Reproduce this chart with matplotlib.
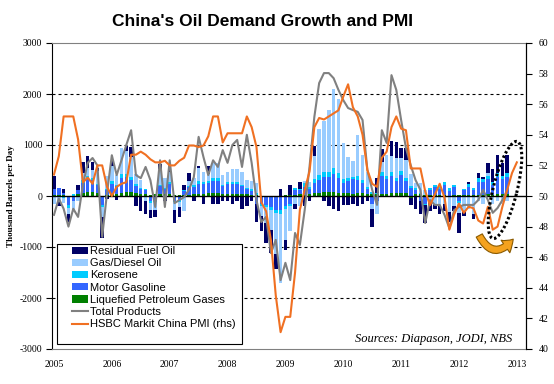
import numpy as np
import matplotlib
matplotlib.use("Agg")
import matplotlib.pyplot as plt
from matplotlib.patches import Patch, Ellipse, FancyArrowPatch, Rectangle
from matplotlib.lines import Line2D
from matplotlib.transforms import IdentityTransform

# ---------------- data (monthly, Jan 2005 onwards) ----------------
year_labels = ["2005", "2006", "2007", "2008", "2009", "2010", "2011", "2012", "2013"]

lpg = [20, 10, 10, -20, 0, 30, 60, 80, 70, 60, -20, 20,
       40, 40, 60, 70, 70, 50, 40, 30, 20, 40, 40, 30,
       30, 20, 10, 20, 20, 30, 40, 40, 50, 50, 50, 40,
       40, 40, 40, 40, 30, 20, 10, -10, -20, -20, -20, -20,
       10, 20, 20, 30, 20, 30, 50, 60, 70, 80, 80, 60,
       60, 50, 40, 60, 50, 40, 30, 30, 40, 40, 50, 50,
       60, 50, -30, 40, 30, 20, 20, 20, 10, 10, -10, 20,
       10, 10, 20, 20, 20, 20, 30, 20, 30, 30, 30]
motor_gasoline = [120, 150, 50, -150, -100, 80, 200, 250, 250, 150, -150, 100,
                  200, 150, 300, 300, 250, 150, 100, 80, -100, -100, 150, 100,
                  200, -100, -80, 80, 150, 150, 200, 200, 200, 250, 250, 150,
                  200, 200, 200, 150, 100, 80, -150, -150, -150, -200, -250, -250,
                  -200, -150, 100, 80, 150, 100, 200, 250, 300, 300, 350, 300,
                  200, 250, 300, 250, 200, 100, -150, -100, 350, 300, 350, 250,
                  350, 250, 150, 80, -100, -150, 100, 150, 120, 200, 100, 150,
                  -100, 100, 150, 100, 250, 250, 300, 200, 350, 300, 350]
kerosene = [0, 0, -30, -60, 40, 0, 50, 60, 40, 30, -50, 20,
            50, 30, 80, 60, 50, 30, 20, 20, -30, -20, 30, 20,
            40, -20, -30, 20, 30, 30, 50, 40, 40, 50, 50, 30,
            40, 40, 40, 30, 30, 40, 40, -30, -50, -50, -60, -80,
            -60, -40, 30, 20, 80, 50, 80, 100, 100, 100, 120, 100,
            80, 60, 40, 80, 60, 30, 50, 20, 80, 60, 80, 50,
            80, 50, 40, 30, 20, -30, 30, 40, 50, 60, 50, 40,
            -30, 30, 60, 30, 80, 60, 70, 50, 80, 70, 80]
gas_diesel = [-150, -120, -100, -120, -200, -100, 150, 150, 150, 250, -200, 250,
              300, 200, 500, 450, 400, 200, 150, -100, -150, -150, 300, 200,
              200, -150, -100, -300, 100, 150, 250, 200, 150, 300, 300, 200,
              200, 250, 250, 250, 150, 150, 200, -200, -300, -400, -800, -1350,
              -600, -500, -150, -200, 50, 100, 450, 900, 1000, 1200, 1550, 1450,
              700, 400, 300, 800, 500, 300, -100, -250, 200, 400, 300, 400,
              250, 350, 250, 100, 200, 100, -100, -150, -200, -150, -300, -200,
              -200, -300, -250, -350, -100, -150, 50, -150, -100, -150, -100]
residual = [250, -80, 80, -150, 0, 100, 200, 250, 150, 50, -400, -50,
            100, -80, 0, 100, 200, -200, -300, -250, -150, -150, 100, -100,
            100, -250, -200, 100, 150, -100, 50, -150, 150, -150, -150, -100,
            -100, -150, -100, -250, -200, -100, -350, -300, -400, -450, -300, 130,
            -200, 200, -100, 150, -200, -100, 200, 0, -100, -200, -250, -300,
            -180, -180, -150, -200, -150, -100, -350, 300, 250, 0, 300, 300,
            200, 250, -150, -250, -250, -350, -200, -100, -150, -150, -200, -100,
            -400, -100, 50, -100, 100, 50, 200, 250, 350, 250, 350]
total_products = [-370, -50, -250, -600, -250, -410, 215, 650, 745, 600, -800, 60,
                  800, 410, 700, 1000, 1290, 410, 350, 570, 310, -215, 700, -215,
                  700, -140, -80, -20, 120, 370, 1160, 765, 410, 700, 570, 900,
                  650, 1000, 1100, 570, 1200, 650, -80, -510, -410, -1120, -860, -1650,
                  -1310, -1650, -725, -960, -275, 570, 1550, 2215, 2410, 2410, 2310, 2080,
                  1880, 1725, 1685, 1650, 1490, 510, 120, -175, 1290, 1040, 2370, 2080,
                  1490, 940, 600, 310, 120, -530, -80, -175, -175, -370, -630, -275,
                  -215, -175, -175, -175, -80, 120, -80, -330, -235, -80, 120]
pmi = [51.4, 52.6, 55.2, 55.2, 55.2, 53.7, 50.9, 51.2, 50.8, 52.0, 52.0, 50.6,
       50.0, 50.6, 50.8, 50.9, 52.7, 52.7, 52.9, 52.7, 52.4, 52.2, 52.2, 52.3,
       52.0, 52.0, 52.3, 52.5, 53.3, 53.3, 53.2, 53.3, 53.9, 55.2, 55.2, 53.5,
       54.1, 54.1, 54.1, 54.1, 55.2, 54.5, 53.2, 49.6, 49.0, 47.1, 43.5, 41.1,
       42.1, 42.1, 45.0, 49.1, 50.4, 51.6, 54.5, 55.1, 55.0, 55.2, 55.4, 55.6,
       56.5, 57.3, 55.8, 55.2, 54.0, 51.7, 50.8, 50.6, 52.5, 52.9, 54.5, 55.2,
       54.4, 54.3, 51.8, 51.8, 51.8, 50.3, 49.4, 50.1, 50.8, 49.9, 47.8, 48.8,
       49.5, 48.9, 49.3, 49.2, 48.4, 48.2, 49.3, 47.8, 48.0, 49.3, 50.4, 51.5, 52.2]

series_names = ["Residual Fuel Oil", "Gas/Diesel Oil", "Kerosene",
                "Motor Gasoline", "Liquefied Petroleum Gases"]
line_names = ["Total Products", "HSBC Markit China PMI (rhs)"]

c_res, c_gd, c_ker, c_mg, c_lpg = "#000066", "#99CCFF", "#00CCFF", "#3366FF", "#008000"
c_total, c_pmi = "#808080", "#F07022"

# ---------------- figure ----------------
fig = plt.figure(figsize=(5.54, 3.84), dpi=100)
ax = fig.add_axes([52/554, 35/384, 474/554, 306/384])

x_bar = np.arange(len(lpg))
stack = [(lpg, c_lpg), (motor_gasoline, c_mg), (kerosene, c_ker),
         (gas_diesel, c_gd), (residual, c_res)]
pos_base = np.zeros(len(lpg))
neg_base = np.zeros(len(lpg))
for vals, col in stack:
    v = np.array(vals, dtype=float)
    p = np.where(v > 0, v, 0)
    n = np.where(v < 0, v, 0)
    ax.bar(x_bar, p, bottom=pos_base, width=0.72, color=col, linewidth=0, zorder=2)
    ax.bar(x_bar, n, bottom=neg_base, width=0.72, color=col, linewidth=0, zorder=2)
    pos_base += p
    neg_base += n

ax.plot(np.arange(len(total_products)), total_products, color=c_total, lw=1.5, zorder=3)

for yv in [-2000, -1000, 1000, 2000]:
    ax.axhline(yv, color="black", lw=0.8, ls=(0, (2.7, 2.7)), zorder=1)
ax.axhline(0, color="black", lw=1.0, zorder=2.5)

ax.set_xlim(-0.41, 97.9)
ax.set_ylim(-3000, 3000)
ax.set_yticks([-3000, -2000, -1000, 0, 1000, 2000, 3000])
ax.set_yticklabels(["-3000", "-2000", "-1000", "0", "1000", "2000", "3000"],
                   family="Liberation Serif", fontsize=7)
ax.tick_params(axis="y", direction="out", length=4, width=0.8, pad=3)
ax.set_xticks(np.arange(0, 97, 12))
ax.set_xticklabels(year_labels, family="Liberation Serif", fontsize=7)
ax.tick_params(axis="x", length=0, pad=8)
ax.set_ylabel("Thousand Barrels per Day", family="Liberation Serif",
              fontweight="bold", fontsize=6.5, labelpad=3)

for s in ["top", "bottom"]:
    ax.spines[s].set_color("#808080")
ax.spines["left"].set_color("black")

ax2 = ax.twinx()
ax2.plot(np.arange(len(pmi)), pmi, color=c_pmi, lw=1.5, zorder=4)
ax2.set_ylim(40, 60)
ax2.set_yticks(np.arange(40, 61, 2))
ax2.set_yticklabels([str(v) for v in range(40, 61, 2)], family="Liberation Serif", fontsize=7)
ax2.tick_params(axis="y", direction="out", length=4, width=0.8, pad=5)
ax2.spines["right"].set_color("black")
for s in ["top", "bottom", "left"]:
    ax2.spines[s].set_visible(False)

# legend: frame drawn separately so the entries can be inset like the original
ax2.add_patch(Rectangle((5/474, 5/306), 185/474, 100/306, transform=ax2.transAxes,
                        facecolor="white", edgecolor="black", lw=0.8, zorder=8))
handles = [Patch(facecolor=c_res, edgecolor="none"),
           Patch(facecolor=c_gd, edgecolor="none"),
           Patch(facecolor=c_ker, edgecolor="none"),
           Patch(facecolor=c_mg, edgecolor="none"),
           Patch(facecolor=c_lpg, edgecolor="none"),
           Line2D([], [], color=c_total, lw=1.5),
           Line2D([], [], color=c_pmi, lw=1.5)]
leg = ax2.legend(handles, series_names + line_names, loc="upper left",
                 bbox_to_anchor=(20/474, (349-246)/306),
                 prop={"family": "Liberation Sans", "size": 8},
                 frameon=False, borderpad=0, labelspacing=0.2, handlelength=1.45,
                 handleheight=0.6, handletextpad=0.2, borderaxespad=0)
leg.set_zorder(9)

ax2.text(0.970, 0.012, "Sources: Diapason, JODI, NBS", transform=ax2.transAxes,
         ha="right", va="bottom", family="Liberation Serif", style="italic", fontsize=9)

fig.text(262/554, 1 - 22/384, "China's Oil Demand Growth and PMI",
         ha="center", va="center", fontsize=12.5, fontweight="bold",
         family="Liberation Sans")

# annotation: dotted ellipse and curved arrow (pixel coordinates)
ell = Ellipse((505, 194), width=100, height=24, angle=76, fill=False,
              edgecolor="black", lw=2.2, ls=(0, (0.8, 0.8)),
              transform=IdentityTransform(), zorder=10)
fig.add_artist(ell)
arr = FancyArrowPatch((478, 151), (515, 147), connectionstyle="arc3,rad=0.8",
                      arrowstyle="simple,head_length=0.7,head_width=1.0,tail_width=0.45",
                      mutation_scale=11, facecolor="#F4A21E", edgecolor="#8A5A00",
                      lw=0.8, transform=IdentityTransform(), zorder=11)
fig.add_artist(arr)

fig.savefig("out.png", dpi=100)
